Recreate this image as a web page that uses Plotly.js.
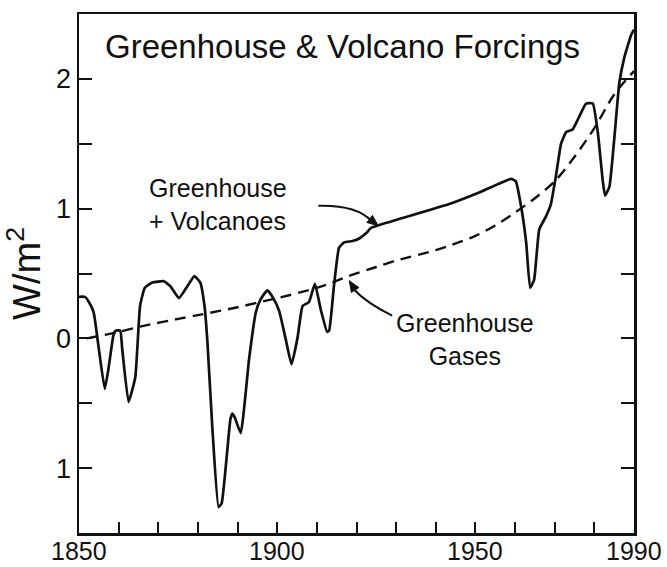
<!DOCTYPE html>
<html>
<head>
<meta charset="utf-8">
<script src="https://cdn.plot.ly/plotly-3.0.1.min.js"></script>
<style>html,body{margin:0;padding:0;background:#fff;}#chart{width:667px;height:567px;}</style>
</head>
<body>
<div id="chart"></div>
<script>
// Greenhouse + Volcanoes forcing (W/m2)
const totalYears = [1850.0,1851.5,1852.5,1853.7,1855.0,1856.5,1857.5,1858.8,1859.4,1860.4,1860.9,1862.5,1864.2,1865.4,1866.6,1868.5,1871.4,1873.1,1875.2,1877.3,1879.1,1880.6,1881.7,1882.4,1883.6,1885.2,1886.0,1888.2,1888.7,1889.3,1890.8,1892.9,1894.6,1895.8,1897.5,1899.0,1900.5,1902.1,1903.6,1905.1,1906.4,1908.0,1909.5,1911.0,1912.6,1913.1,1914.3,1915.6,1916.9,1919.0,1920.7,1922.4,1923.6,1925.3,1943.8,1951.4,1959.0,1960.2,1961.5,1962.8,1963.8,1964.8,1966.1,1967.8,1969.0,1970.3,1971.6,1972.9,1974.5,1976.2,1977.9,1979.6,1980.9,1982.1,1982.7,1983.8,1985.0,1986.3,1987.6,1989.3,1990.0];
const totalForcing = [0.32,0.32,0.28,0.20,-0.08,-0.39,-0.22,0.04,0.06,0.06,-0.08,-0.49,-0.30,0.25,0.39,0.43,0.44,0.40,0.31,0.40,0.48,0.43,0.24,-0.03,-0.67,-1.30,-1.27,-0.62,-0.58,-0.61,-0.73,-0.16,0.20,0.30,0.37,0.31,0.21,0.00,-0.20,0.00,0.25,0.28,0.42,0.22,0.05,0.06,0.40,0.70,0.74,0.75,0.77,0.81,0.85,0.87,1.04,1.13,1.23,1.21,1.02,0.74,0.39,0.45,0.84,0.94,1.03,1.25,1.50,1.59,1.61,1.71,1.81,1.81,1.58,1.22,1.10,1.17,1.53,1.97,2.17,2.34,2.38];

// Greenhouse gases forcing (W/m2)
const ghgYears = [1852,1860,1866,1875,1881,1890,1895,1900,1909,1913,1918,1925,1930,1940,1944,1950,1955,1960,1965,1970,1975,1980,1985,1990];
const ghgForcing = [0.00,0.05,0.095,0.15,0.185,0.24,0.275,0.31,0.38,0.42,0.48,0.55,0.60,0.68,0.72,0.79,0.87,0.97,1.08,1.21,1.40,1.62,1.88,2.06];

// Axis ticks
const xTickVals = [1850,1860,1870,1880,1890,1900,1910,1920,1930,1940,1950,1960,1970,1980,1990];
const xLabelVals = [1850,1900,1950,1990];
const xLabelText = ['1850','1900','1950','1990'];
const yTickVals = [-1,0,1,2];
const yTickText = ['1','0','1','2'];

const FONT = 'Liberation Sans, Arial, sans-serif';
const INK = '#111';

// pixel -> paper helpers for layout decorations
const L = 78.5, R = 634, T = 14, B = 533.5;
const px = v => (v - L) / (R - L);
const py = v => (B - v) / (B - T);

function arrowHead(tx, ty, fx, fy, len, half) {
  const dx = tx - fx, dy = ty - fy, n = Math.hypot(dx, dy);
  const ux = dx / n, uy = dy / n;
  const bx = tx - ux * len, by = ty - uy * len;
  const p1x = bx - uy * half, p1y = by + ux * half;
  const p2x = bx + uy * half, p2y = by - ux * half;
  return `M ${px(tx)} ${py(ty)} L ${px(p1x)} ${py(p1y)} L ${px(p2x)} ${py(p2y)} Z`;
}

const traces = [
  {x: totalYears, y: totalForcing, type: 'scatter', mode: 'lines',
   line: {color: INK, width: 2.7, shape: 'spline', smoothing: 0.4}, hoverinfo: 'skip'},
  {x: ghgYears, y: ghgForcing, type: 'scatter', mode: 'lines',
   line: {color: INK, width: 2.4, dash: '11px,7px', shape: 'spline', smoothing: 0.8}, hoverinfo: 'skip'}
];

const xLabelAnnotations = xLabelVals.map((v, i) => ({
  text: xLabelText[i], xref: 'x', yref: 'paper', x: v, y: py(552),
  xanchor: 'center', yanchor: 'middle', showarrow: false, borderpad: 0,
  font: {size: 25, family: FONT, color: INK}
}));

const layout = {
  width: 667, height: 567,
  margin: {l: L, r: 667 - R, t: T, b: 567 - B, pad: 0},
  paper_bgcolor: '#fff', plot_bgcolor: '#fff',
  showlegend: false,
  font: {family: FONT, color: INK},
  xaxis: {
    range: [1850, 1990], tickmode: 'array', tickvals: xTickVals, showticklabels: false,
    ticks: 'inside', ticklen: 11, tickwidth: 2, tickcolor: INK,
    showline: true, linewidth: 2.5, linecolor: INK, mirror: true,
    showgrid: false, zeroline: false, automargin: false
  },
  yaxis: {
    range: [-1.5, 2.5], tickmode: 'array', tickvals: yTickVals, ticktext: yTickText,
    ticks: 'inside', ticklen: 13, tickwidth: 2, tickcolor: INK,
    minor: {dtick: 0.5, tick0: 0, ticks: 'inside', ticklen: 13, tickwidth: 2, tickcolor: INK, showgrid: false},
    showline: true, linewidth: 2.5, linecolor: INK, mirror: 'ticks',
    showgrid: false, zeroline: false, automargin: false,
    tickfont: {size: 27, family: FONT, color: INK},
    title: {text: 'W/m<sup>2</sup>', font: {size: 38, family: FONT, color: INK}, standoff: 4}
  },
  annotations: [
    {text: 'Greenhouse &amp; Volcano Forcings', xref: 'paper', yref: 'paper',
     x: px(103), y: py(47), xanchor: 'left', yanchor: 'middle', showarrow: false,
     font: {size: 33, family: FONT, color: INK}},
    {text: 'Greenhouse<br>+ Volcanoes', xref: 'paper', yref: 'paper',
     x: px(147), y: py(205), xanchor: 'left', yanchor: 'middle', align: 'left', showarrow: false,
     font: {size: 25, family: FONT, color: INK}},
    {text: 'Greenhouse<br>Gases', xref: 'paper', yref: 'paper',
     x: px(465), y: py(340), xanchor: 'center', yanchor: 'middle', align: 'center', showarrow: false,
     font: {size: 25, family: FONT, color: INK}}
  ].concat(xLabelAnnotations),
  shapes: [
    {type: 'path', xref: 'paper', yref: 'paper',
     path: `M ${px(318)} ${py(206)} Q ${px(356)} ${py(205)} ${px(371)} ${py(221)}`,
     line: {color: INK, width: 2}},
    {type: 'path', xref: 'paper', yref: 'paper',
     path: arrowHead(378, 226, 368, 218, 11, 4.5),
     fillcolor: INK, line: {color: INK, width: 1}},
    {type: 'path', xref: 'paper', yref: 'paper',
     path: `M ${px(392)} ${py(316)} Q ${px(366)} ${py(303)} ${px(354)} ${py(290)}`,
     line: {color: INK, width: 2}},
    {type: 'path', xref: 'paper', yref: 'paper',
     path: arrowHead(349, 281, 356, 292, 11, 4.5),
     fillcolor: INK, line: {color: INK, width: 1}}
  ]
};

Plotly.newPlot('chart', traces, layout, {staticPlot: true, displayModeBar: false});
</script>
</body>
</html>
